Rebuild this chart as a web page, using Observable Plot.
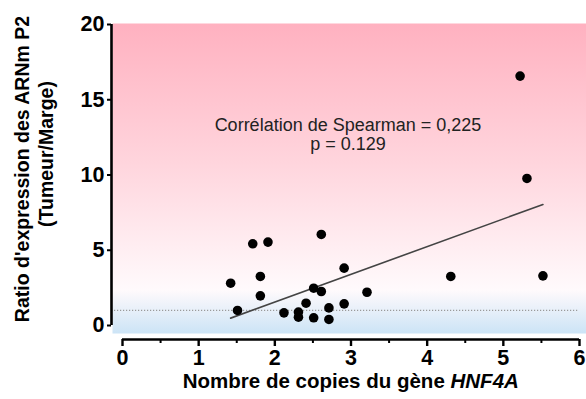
<!DOCTYPE html>
<html>
<head>
<meta charset="utf-8">
<script src="https://cdn.jsdelivr.net/npm/d3@7"></script>
<script src="https://cdn.jsdelivr.net/npm/@observablehq/plot@0.6"></script>
<style>
  html, body { margin: 0; padding: 0; background: #fff; }
  #chart svg { display: block; font-family: "Liberation Sans", Arial, sans-serif; }
</style>
</head>
<body>
<div id="chart"></div>
<script>
// --- data ---
const copies = [1.42, 1.51, 1.71, 1.91, 1.81, 1.81, 2.12, 2.31, 2.31, 2.41, 2.51, 2.51, 2.61, 2.61, 2.71, 2.71, 2.91, 2.91, 3.21, 4.31, 5.22, 5.31, 5.52];
const ratio  = [2.81, 1.00, 5.43, 5.54, 3.26, 1.97, 0.84, 0.89, 0.55, 1.48, 2.48, 0.51, 6.05, 2.26, 1.17, 0.40, 3.81, 1.44, 2.21, 3.26, 16.57, 9.77, 3.30];
const fitX = [1.42, 5.52];
const fitY = [0.49, 8.04];
const refLine = [1];
const xTicks = [0, 1, 2, 3, 4, 5, 6];
const xMinorTicks = [0.5, 1.5, 2.5, 3.5, 4.5, 5.5];
const yTicks = [0, 5, 10, 15, 20];
const annX = [2.96, 2.96];
const annY = [13.3, 12.05];
const annText = ["Corrélation de Spearman = 0,225", "p = 0.129"];
const xTitleMain = "Nombre de copies du gène ";
const xTitleItalic = "HNF4A";
const yTitle1 = "Ratio d'expression des ARNm P2";
const yTitle2 = "(Tumeur/Marge)";

const points = copies.map((c, i) => ({x: c, y: ratio[i]}));
const fit = fitX.map((x, i) => ({x, y: fitY[i]}));
const ann = annText.map((t, i) => ({x: annX[i], y: annY[i], t}));

const defs = () => {
  const d = d3.create("svg:defs");
  const g = d.append("linearGradient").attr("id", "bgGrad")
    .attr("x1", 0).attr("y1", 0).attr("x2", 0).attr("y2", 1);
  g.append("stop").attr("offset", "0%").attr("stop-color", "#ffb1c0");
  g.append("stop").attr("offset", "45%").attr("stop-color", "#ffd5dd");
  g.append("stop").attr("offset", "86%").attr("stop-color", "#fffafc");
  g.append("stop").attr("offset", "100%").attr("stop-color", "#cce4f6");
  return d.node();
};

const font = "Liberation Sans, Arial, sans-serif";

const chart = Plot.plot({
  width: 586,
  height: 399,
  marginLeft: 111,
  marginRight: 7,
  marginTop: 24,
  marginBottom: 60,
  style: {fontFamily: font, background: "#fff", overflow: "visible"},
  x: {domain: [0, 6], range: [122, 579]},
  y: {domain: [0, 20], range: [325, 24]},
  marks: [
    defs,
    Plot.frame({fill: "url(#bgGrad)", stroke: null, insetLeft: 1, insetRight: -7, insetTop: -1, insetBottom: 6}),
    Plot.ruleY(refLine, {stroke: "#9a9a9a", strokeWidth: 1.2, strokeDasharray: "1.2,1.8"}),
    Plot.line(fit, {x: "x", y: "y", stroke: "#444", strokeWidth: 1.6}),
    Plot.dot(points, {x: "x", y: "y", r: 4.8, fill: "#000", stroke: null}),
    Plot.text(ann, {x: "x", y: "y", text: "t", fontSize: 18, fill: "#222", textAnchor: "middle"}),
    // axes
    Plot.ruleX([0], {y1: 0, y2: 20, dx: -11, strokeWidth: 2.6, stroke: "#000"}),
    Plot.ruleY([0], {x1: 0, x2: 6, dy: 14, strokeWidth: 2.6, stroke: "#000"}),
    Plot.axisY({ticks: yTicks, tickFormat: d3.format("d"), tickSize: 4, tickPadding: 3, fontSize: 21.5, fontWeight: "bold", strokeWidth: 2, label: null, color: "#000"}),
    Plot.axisX({ticks: xTicks, tickFormat: d3.format("d"), tickSize: 7, tickPadding: 3, fontSize: 21.5, fontWeight: "bold", strokeWidth: 2.4, label: null, color: "#000"}),
    Plot.axisX({ticks: xMinorTicks, tickSize: 4, tickFormat: () => "", strokeWidth: 2, label: null, color: "#000"}),
    // titles
    Plot.text([xTitleMain], {frameAnchor: "bottom", text: d => d, dx: 105, dy: 48, textAnchor: "end", fontSize: 20.5, fontWeight: "bold", fill: "#000"}),
    Plot.text([xTitleItalic], {frameAnchor: "bottom", text: d => d, dx: 105, dy: 48, textAnchor: "start", fontSize: 20.5, fontWeight: "bold", fontStyle: "italic", fill: "#000"}),
    Plot.text([yTitle1], {frameAnchor: "left", text: d => d, dx: -89, dy: -13, rotate: -90, textAnchor: "middle", fontSize: 19.5, fontWeight: "bold", fill: "#000"}),
    Plot.text([yTitle2], {frameAnchor: "left", text: d => d, dx: -65, dy: -28, rotate: -90, textAnchor: "middle", fontSize: 19.5, fontWeight: "bold", fill: "#000"})
  ]
});
document.getElementById("chart").appendChild(chart);
</script>
</body>
</html>
